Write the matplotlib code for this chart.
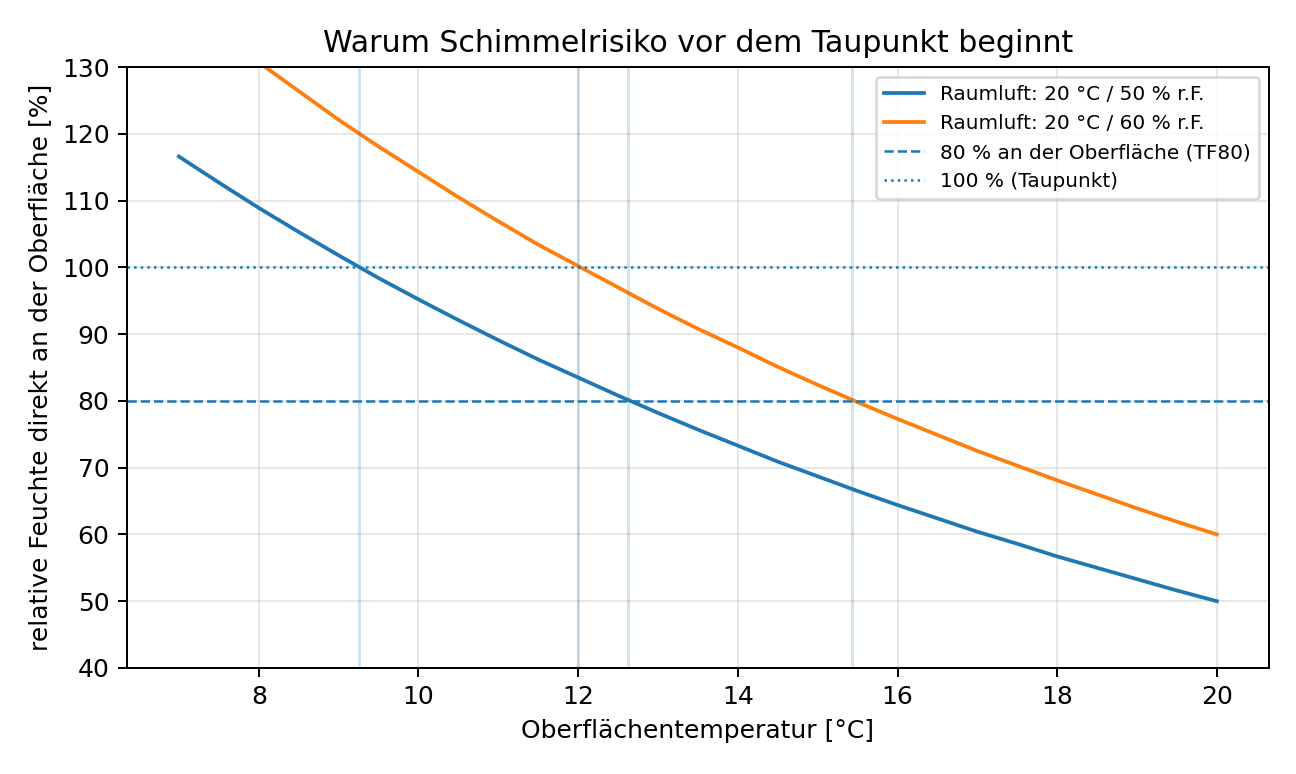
import matplotlib
matplotlib.use("Agg")
import matplotlib.pyplot as plt

temps = [7.0, 7.5, 8.0, 8.5, 9.0, 9.5, 10.0, 10.5, 11.0, 11.5, 12.0, 12.5, 13.0,
         13.5, 14.0, 14.5, 15.0, 15.5, 16.0, 16.5, 17.0, 17.5, 18.0, 18.5, 19.0, 19.5, 20.0]
rh_50 = [116.6, 112.7, 108.9, 105.3, 101.8, 98.4, 95.2, 92.1, 89.1, 86.2, 83.5, 80.8, 78.2,
         75.7, 73.3, 70.9, 68.7, 66.5, 64.4, 62.4, 60.4, 58.6, 56.7, 55.0, 53.3, 51.6, 50.0]
rh_60 = [140.0, 135.2, 130.7, 126.4, 122.1, 118.1, 114.3, 110.5, 106.9, 103.4, 100.2, 97.0, 93.8,
         90.8, 88.0, 85.1, 82.4, 79.8, 77.3, 74.9, 72.5, 70.3, 68.1, 66.0, 63.9, 61.9, 60.0]
vlines_x = [9.26, 12.0, 12.63, 15.43]

fig, ax = plt.subplots(figsize=(7.2, 4.3), dpi=180)
fig.subplots_adjust(left=0.098, right=0.979, top=0.9134, bottom=0.137)
ax.plot(temps, rh_50, color="C0", lw=1.5, label="Raumluft: 20 °C / 50 % r.F.")
ax.plot(temps, rh_60, color="C1", lw=1.5, label="Raumluft: 20 °C / 60 % r.F.")
ax.axhline(80, color="C0", ls="--", lw=1.0, label="80 % an der Oberfläche (TF80)")
ax.axhline(100, color="C0", ls=":", lw=1.0, label="100 % (Taupunkt)")
for x in vlines_x:
    ax.axvline(x, color="C0", alpha=0.2, lw=1.2)
ax.set_ylim(40, 130)
ax.grid(True, alpha=0.3)
ax.set_title("Warum Schimmelrisiko vor dem Taupunkt beginnt", fontsize=12)
ax.set_xlabel("Oberflächentemperatur [°C]", fontsize=10)
ax.set_ylabel("relative Feuchte direkt an der Oberfläche [%]", fontsize=10)
ax.tick_params(labelsize=10)
ax.legend(loc="upper right", fontsize=8)
fig.savefig("out.png", dpi=180)
